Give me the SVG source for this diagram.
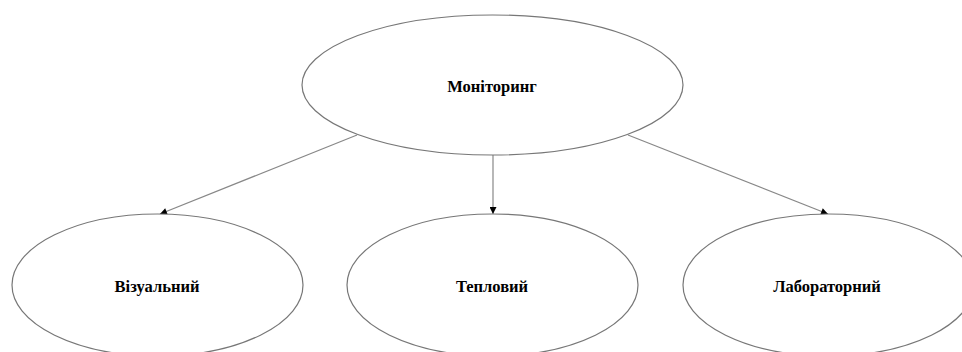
<svg xmlns="http://www.w3.org/2000/svg" width="962" height="352" viewBox="0 0 962 352">
<style>
.n ellipse{fill:#fff;stroke:#777;stroke-width:1.2}
.n text{font-family:"Liberation Serif","Times New Roman",serif;font-weight:bold;font-size:16.5px;fill:#000;text-anchor:middle;dominant-baseline:central}
.c line{stroke:#888;stroke-width:1.2;fill:none}
</style>
<defs>
<marker id="ah" viewBox="0 0 10 10" refX="10" refY="5" markerWidth="8" markerHeight="7" markerUnits="userSpaceOnUse" orient="auto">
<path d="M0,0 L10,5 L0,10 z" fill="#000"/>
</marker>
</defs>
<rect width="962" height="352" fill="#fff"/>
<g class="c" id="connectors">
<line x1="357" y1="135" x2="160" y2="214" marker-end="url(#ah)"/>
<line x1="493" y1="155" x2="493" y2="214" marker-end="url(#ah)"/>
<line x1="628" y1="135" x2="828" y2="214" marker-end="url(#ah)"/>
</g>
<g class="n" id="monitoring">
<ellipse cx="492.5" cy="85" rx="190.5" ry="70"/>
<text x="492" y="86">Моніторинг</text>
</g>
<g class="n" id="visual">
<ellipse cx="157.5" cy="285" rx="145.5" ry="71"/>
<text x="157" y="286">Візуальний</text>
</g>
<g class="n" id="thermal">
<ellipse cx="492.5" cy="285" rx="145.5" ry="71"/>
<text x="492" y="286">Тепловий</text>
</g>
<g class="n" id="lab">
<ellipse cx="828.5" cy="285" rx="145.5" ry="71"/>
<text x="827" y="286">Лабораторний</text>
</g>
</svg>
